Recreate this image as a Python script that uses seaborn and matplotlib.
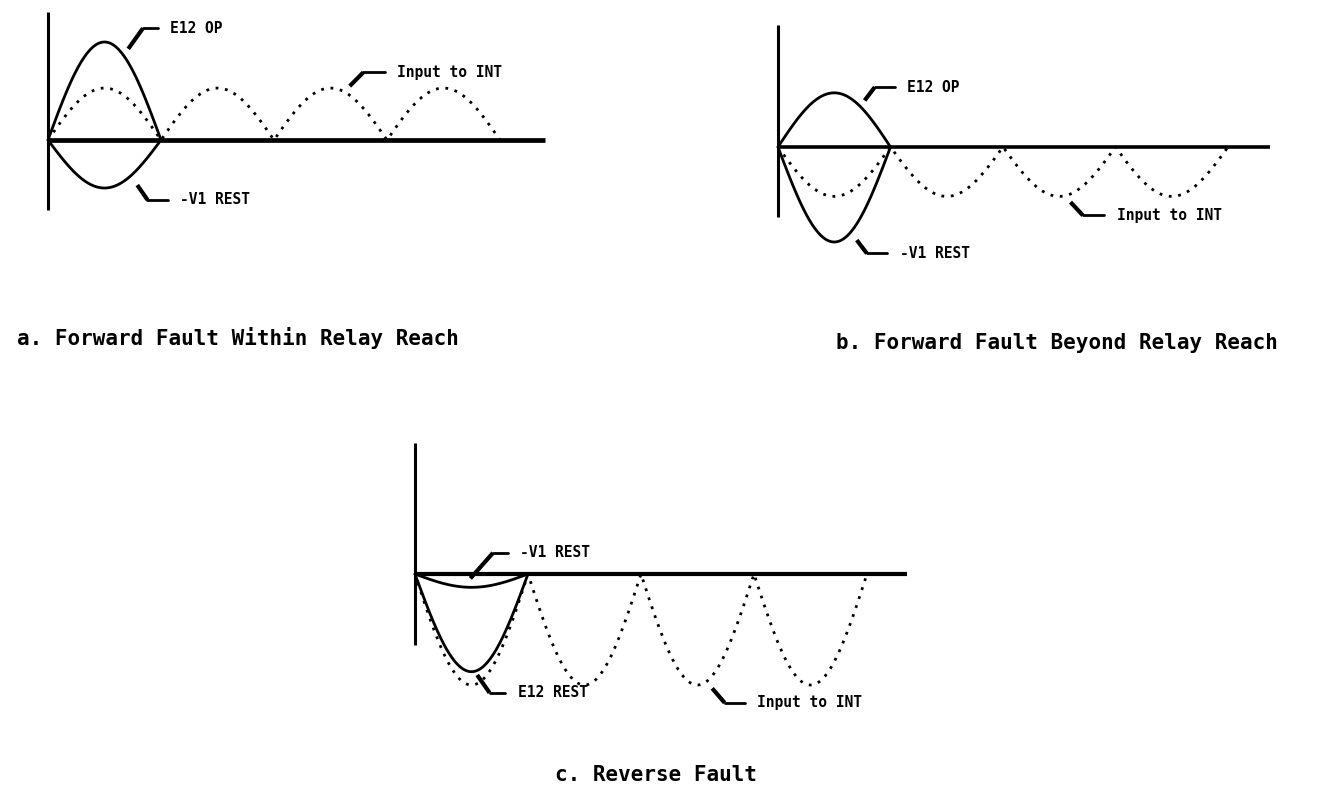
import numpy as np
import pandas as pd
import matplotlib
matplotlib.use("Agg")
import matplotlib.pyplot as plt
import seaborn as sns

sns.set_theme(style="white")
plt.rcParams["font.family"] = ["DejaVu Sans Mono", "DejaVu Sans"]

# Half-cycle amplitudes of each waveform (one entry per half-cycle, in panel units)
a_e12_op = [1.0]
a_v1_rest = [-0.49]
a_input_int = [0.53, 0.53, 0.53, 0.53]

b_e12_op = [0.57]
b_v1_rest = [-1.0]
b_input_int = [-0.52, -0.52, -0.52, -0.52]

c_v1_rest = [-0.12]
c_e12_rest = [-0.88]
c_input_int = [-1.0, -1.0, -1.0, -1.0]

captions = [
    "a. Forward Fault Within Relay Reach",
    "b. Forward Fault Beyond Relay Reach",
    "c. Reverse Fault",
]

W, H = 1340, 785
fig = plt.figure(figsize=(W / 100, H / 100), dpi=100)


def wave(amps, n=80):
    """Sinusoidal half-cycles, one per amplitude, laid end to end."""
    xs, ys = [], []
    for k, amp in enumerate(amps):
        t = np.linspace(0, 1, n)
        xs.append(k + t)
        ys.append(amp * np.sin(np.pi * t))
    return pd.DataFrame({"x": np.concatenate(xs), "y": np.concatenate(ys)})


def make_axes(x0, y0, sx, sy, xmax, ybot, ytop):
    left = x0 / W
    width = xmax * sx / W
    bottom = (H - (y0 - ybot * sy)) / H
    height = (ytop - ybot) * sy / H
    ax = fig.add_axes([left, bottom, width, height])
    ax.set_xlim(0, xmax)
    ax.set_ylim(ybot, ytop)
    ax.set_axis_off()
    return ax


def axes_lines(ax, xmax, ybot, ytop, hlw, vlw):
    ax.hlines(0, 0, xmax, color="black", lw=hlw, clip_on=False, zorder=3)
    ax.vlines(0, ybot, ytop, color="black", lw=vlw, clip_on=False, zorder=3)


def solid(ax, amps):
    sns.lineplot(data=wave(amps), x="x", y="y", ax=ax, color="black",
                 lw=2.0, sort=False, estimator=None)
    ax.lines[-1].set_clip_on(False)


def dotted(ax, amps):
    sns.lineplot(data=wave(amps), x="x", y="y", ax=ax, color="black",
                 lw=2.0, sort=False, estimator=None, linestyle=(0, (1, 2.4)))
    ax.lines[-1].set_clip_on(False)


def label(ax, pts, text):
    xs = [p[0] for p in pts]
    ys = [p[1] for p in pts]
    ax.plot(xs[:2], ys[:2], color="black", lw=3.0, solid_capstyle="butt",
            clip_on=False)
    ax.plot(xs[1:], ys[1:], color="black", lw=2.0, clip_on=False)
    ax.text(xs[-1] + 0.11, ys[-1], text, fontsize=10.5, fontweight="bold",
            va="center", ha="left", color="black", clip_on=False)


# Panel a
ax = make_axes(48, 140, 113, 98, 4.40, -0.71, 1.31)
axes_lines(ax, 4.40, -0.71, 1.31, 3.4, 2.2)
dotted(ax, a_input_int)
solid(ax, a_e12_op)
solid(ax, a_v1_rest)
label(ax, [(0.71, 0.93), (0.84, 1.14), (0.97, 1.14)], "E12 OP")
label(ax, [(2.67, 0.55), (2.79, 0.69), (2.98, 0.69)], "Input to INT")
label(ax, [(0.79, -0.46), (0.88, -0.61), (1.06, -0.61)], "-V1 REST")

# Panel b
ax = make_axes(778, 147, 112.5, 95, 4.37, -0.74, 1.28)
axes_lines(ax, 4.37, -0.74, 1.28, 2.6, 2.2)
dotted(ax, b_input_int)
solid(ax, b_e12_op)
solid(ax, b_v1_rest)
label(ax, [(0.77, 0.49), (0.86, 0.63), (1.04, 0.63)], "E12 OP")
label(ax, [(2.60, -0.58), (2.71, -0.72), (2.90, -0.72)], "Input to INT")
label(ax, [(0.70, -0.98), (0.79, -1.12), (0.97, -1.12)], "-V1 REST")

# Panel c
ax = make_axes(415, 574, 113, 111, 4.35, -0.64, 1.18)
axes_lines(ax, 4.35, -0.64, 1.18, 3.0, 2.2)
dotted(ax, c_input_int)
solid(ax, c_e12_rest)
solid(ax, c_v1_rest)
label(ax, [(0.49, -0.04), (0.69, 0.19), (0.82, 0.19)], "-V1 REST")
label(ax, [(0.55, -0.91), (0.66, -1.07), (0.80, -1.07)], "E12 REST")
label(ax, [(2.63, -1.03), (2.74, -1.16), (2.92, -1.16)], "Input to INT")

# Captions
for (cx, cy), text in zip([(238, 338), (1057, 343), (656, 775)], captions):
    fig.text(cx / W, 1 - cy / H, text, fontsize=15, fontweight="bold",
             ha="center", va="center", color="black")

fig.savefig("out.png", dpi=100, facecolor="white")
